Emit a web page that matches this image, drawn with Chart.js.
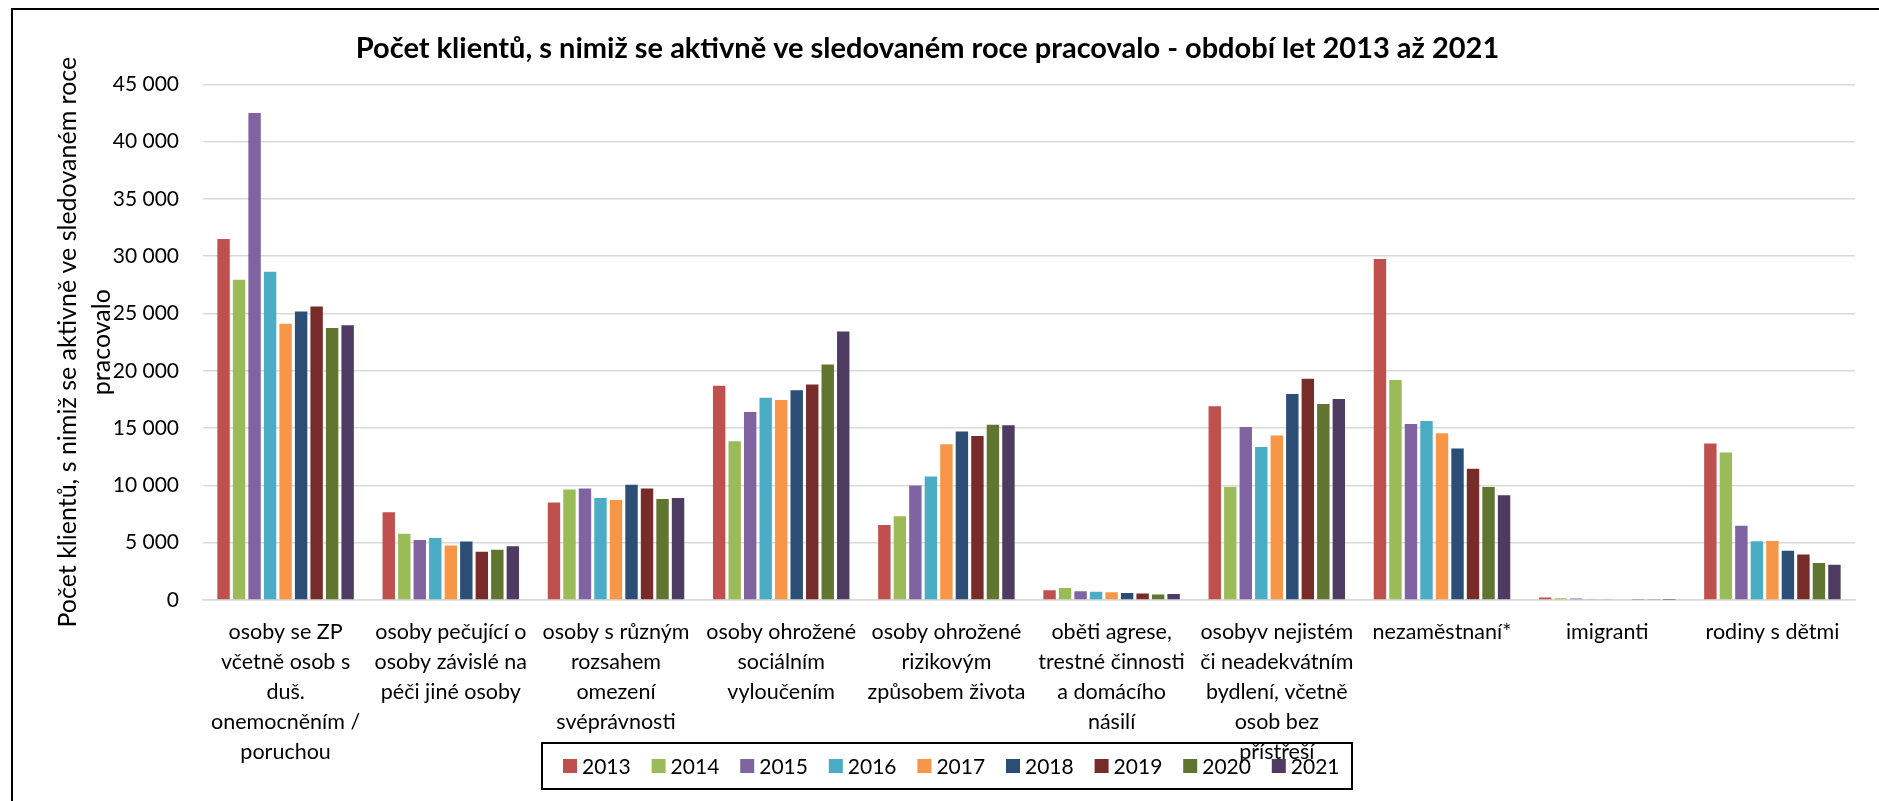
<!DOCTYPE html>
<html lang="cs">
<head>
<meta charset="UTF-8">
<title>Počet klientů 2013–2021</title>
<script src="https://cdn.jsdelivr.net/npm/chart.js"></script>
<style>
  html, body { margin: 0; padding: 0; background: #fff; overflow: hidden; }
  #wrap { position: relative; width: 1879px; height: 801px; }
  #frame { position: absolute; left: 11px; top: 8px; width: 1900px; height: 820px;
           border-left: 2px solid #000; border-top: 2px solid #000; pointer-events: none; }
</style>
</head>
<body>
<div id="wrap">
  <canvas id="chart" width="1879" height="801"></canvas>
  <div id="frame"></div>
</div>
<script>
// categories (multi-line as in the original)
const categories = [
  ['osoby se ZP', 'včetně osob s', 'duš.', 'onemocněním /', 'poruchou'],
  ['osoby pečující o', 'osoby závislé na', 'péči jiné osoby'],
  ['osoby s různým', 'rozsahem', 'omezení', 'svéprávnosti'],
  ['osoby ohrožené', 'sociálním', 'vyloučením'],
  ['osoby ohrožené', 'rizikovým', 'způsobem života'],
  ['oběti agrese,', 'trestné činnosti', 'a domácího', 'násilí'],
  ['osobyv nejistém', 'či neadekvátním', 'bydlení, včetně', 'osob bez', 'přístřeší'],
  ['nezaměstnaní*'],
  ['imigranti'],
  ['rodiny s dětmi']
];

const years = ['2013', '2014', '2015', '2016', '2017', '2018', '2019', '2020', '2021'];

// values per year, same order as categories
const v2013 = [31500, 7650, 8500, 18700, 6550, 850, 16900, 29750, 210, 13650];
const v2014 = [27950, 5780, 9650, 13850, 7300, 1050, 9850, 19200, 150, 12880];
const v2015 = [42500, 5230, 9720, 16400, 10000, 760, 15100, 15350, 120, 6480];
const v2016 = [28650, 5410, 8900, 17650, 10780, 730, 13350, 15620, 90, 5120];
const v2017 = [24100, 4750, 8720, 17450, 13600, 670, 14350, 14550, 80, 5150];
const v2018 = [25180, 5110, 10050, 18300, 14700, 610, 17970, 13220, 60, 4300];
const v2019 = [25600, 4210, 9720, 18800, 14300, 560, 19300, 11450, 50, 3970];
const v2020 = [23730, 4390, 8810, 20550, 15300, 470, 17100, 9870, 40, 3220];
const v2021 = [23970, 4690, 8900, 23430, 15250, 520, 17550, 9150, 30, 3070];

const seriesValues = [v2013, v2014, v2015, v2016, v2017, v2018, v2019, v2020, v2021];
const seriesColors = ['#C0504D', '#9BBB59', '#8064A2', '#4BACC6', '#F79646',
                      '#2C4D75', '#772C2A', '#5F7530', '#4D3B62'];

const yTicks = [0, 5000, 10000, 15000, 20000, 25000, 30000, 35000, 40000, 45000];

function fmt(v) {
  return String(v).replace(/\B(?=(\d{3})+(?!\d))/g, ' ');
}

// legend drawn as a boxed row below the axis labels (it overlaps the last label line, like the original)
const boxLegend = {
  id: 'boxLegend',
  afterDraw(chart) {
    const ctx = chart.ctx;
    ctx.save();
    ctx.strokeStyle = '#000';
    ctx.lineWidth = 2;
    ctx.strokeRect(542, 743, 810, 46);
    ctx.font = '21px Lato';
    ctx.textBaseline = 'middle';
    ctx.fillStyle = '#000';
    chart.data.datasets.forEach((ds, i) => {
      const x = 563 + i * 88.6;
      ctx.fillStyle = ds.backgroundColor;
      ctx.fillRect(x, 759, 14, 14);
      ctx.fillStyle = '#000';
      ctx.fillText(ds.label, x + 19, 767);
    });
    ctx.restore();
  }
};

new Chart(document.getElementById('chart'), {
  type: 'bar',
  data: {
    labels: categories,
    datasets: years.map((y, i) => ({
      label: y,
      data: seriesValues[i],
      backgroundColor: seriesColors[i],
      borderWidth: 0,
      barPercentage: 0.8,
      categoryPercentage: 0.845
    }))
  },
  options: {
    responsive: false,
    animation: false,
    layout: { padding: { left: 0, right: 24, top: 0, bottom: 0 } },
    plugins: {
      legend: { display: false },
      tooltip: { enabled: false },
      title: {
        display: true,
        text: 'Počet klientů, s nimiž se aktivně ve sledovaném roce pracovalo - období let 2013 až 2021',
        color: '#000',
        font: { family: 'Lato', size: 29, weight: 'bold', lineHeight: 1.2 },
        padding: { top: 31, bottom: 18.5 }
      }
    },
    scales: {
      x: {
        grid: { display: false, drawTicks: false },
        border: { display: true, color: '#d9d9d9', width: 1.5 },
        ticks: {
          color: '#000',
          font: { family: 'Lato', size: 21.5, lineHeight: 1.4 },
          padding: 17,
          maxRotation: 0,
          autoSkip: false
        },
        afterFit(scale) { scale.height = 201; }
      },
      y: {
        min: 0,
        max: 45000,
        afterBuildTicks(scale) { scale.ticks = yTicks.map(v => ({ value: v })); },
        grid: { color: '#d9d9d9', lineWidth: 1.5, drawTicks: false },
        border: { display: false },
        ticks: {
          color: '#000',
          font: { family: 'Lato', size: 21 },
          padding: 24,
          callback: v => fmt(v)
        },
        title: {
          display: true,
          text: ['Počet klientů, s nimiž se aktivně ve sledovaném roce', 'pracovalo'],
          color: '#000',
          font: { family: 'Lato', size: 25, lineHeight: 1.36 },
          padding: { top: 51, bottom: 0 }
        },
        afterFit(scale) { scale.width = 203; }
      }
    }
  },
  plugins: [boxLegend]
});
</script>
</body>
</html>
